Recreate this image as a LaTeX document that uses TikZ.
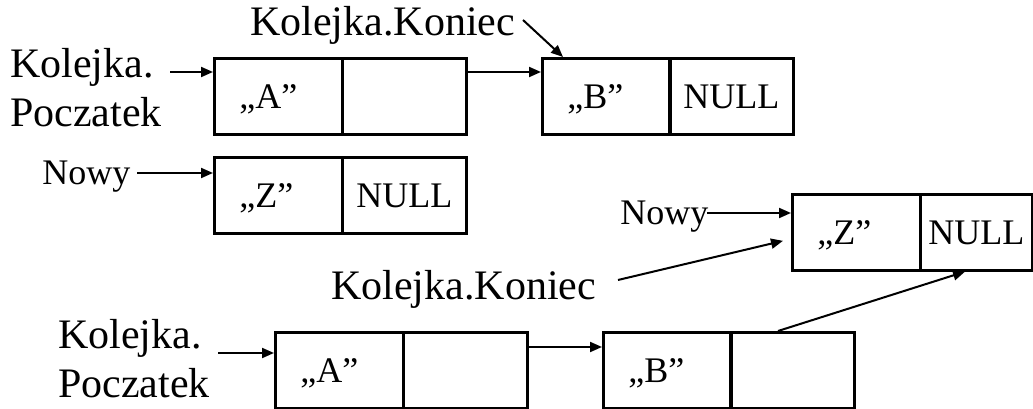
\documentclass[tikz,border=0pt]{standalone}
\usepackage{fontspec}
\setmainfont{Liberation Serif}
\usetikzlibrary{arrows.meta,calc}
\begin{document}
\begin{tikzpicture}[x=0.75pt,y=-0.75pt,
  cell/.style={draw,line width=2pt,minimum height=57pt,inner ysep=0pt,
    text height=18pt,text depth=0pt,
    anchor=north west,font=\fontsize{27}{32}\selectfont},
  cellL/.style={cell,minimum width=96pt,inner xsep=18.75pt,text width=58.5pt,align=left},
  cellR/.style={cell,minimum width=93pt,inner xsep=0pt},
  big/.style={inner sep=0pt,anchor=base west,align=left,
    font=\fontsize{31.5}{36.75}\selectfont},
  small/.style={inner sep=0pt,anchor=base west,font=\fontsize{27}{32}\selectfont},
  arr/.style={line width=1.5pt,-{Triangle[length=9pt,width=7.5pt]}}]
\useasboundingbox (0,0) rectangle (1033,409);

% upper list: A -> B, and a new element Z
\node[cellL] (a1l) at (213,57) {„A”};
\node[cellR] (a1r) at (341,57) {};
\node[cellL] (b1l) at (541,57) {„B”};
\node[cellR] (b1r) at (668,57) {NULL};
\node[cellL] (z1l) at (213,156) {„Z”};
\node[cellR] (z1r) at (341,156) {NULL};

\node[big] (kk1) at (250,36) {Kolejka.Koniec};
\node[big] (kp1) at (10,127) {Kolejka.\\Poczatek};
\node[small] (n1) at (42,185) {Nowy};

\coordinate (p1) at (170,72);
\coordinate (k1) at (523,20);
\coordinate (q1) at (137,173);
\draw[arr] (p1) -- (p1 -| a1l.west);
\draw[arr] (a1r.east |- p1) -- (b1l.west |- p1);
\draw[arr] (k1) -- ($(b1l.north west)+(22,0)$);
\draw[arr] (q1) -- (q1 -| z1l.west);

% lower list: A -> B -> Z
\node[cellL] (a2l) at (274,331) {„A”};
\node[cellR] (a2r) at (402,331) {};
\node[cellL] (b2l) at (602,331) {„B”};
\node[cellR] (b2r) at (729,331) {};
\node[cellL] (z2l) at (791,193) {„Z”};
\node[cell,minimum width=84pt,inner xsep=0pt] (z2r) at (919,193) {NULL};

\node[small] (n2) at (620,225) {Nowy};
\node[big] (kk2) at (331,300) {Kolejka.Koniec};
\node[big] (kp2) at (58,398) {Kolejka.\\Poczatek};

\coordinate (q2) at (707,213);
\coordinate (k2) at (618,280);
\coordinate (p2) at (218,353);
\coordinate (r2) at (526,347);
\draw[arr] (q2) -- (q2 -| z2l.west);
\draw[arr] (k2) -- ($(z2l.west)+(-8,8.5)$);
\draw[arr] (p2) -- (p2 -| a2l.west);
\draw[arr] (a2r.east |- r2) -- (b2l.west |- r2);
\draw[arr] ($(b2r.north west)+(49,0)$) -- ($(z2r.south west)+(46,0)$);
\end{tikzpicture}
\end{document}
